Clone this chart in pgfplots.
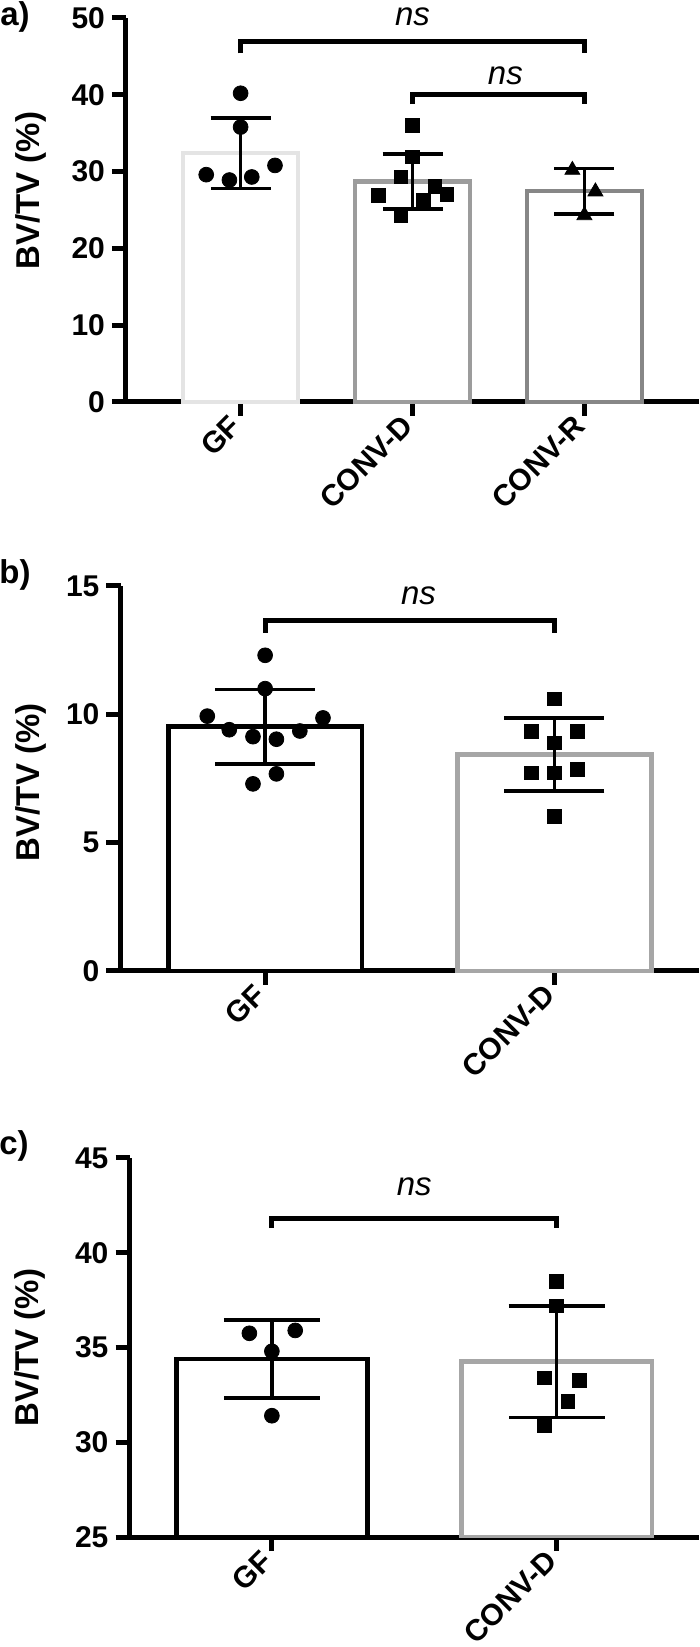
\documentclass[border=0pt]{standalone}
\usepackage{fontspec}
\setmainfont{Liberation Sans}
\usepackage{pgfplots}
\pgfplotsset{compat=1.18}
\definecolor{gA}{HTML}{E4E4E4}
\definecolor{gB}{HTML}{9C9C9C}
\definecolor{gC}{HTML}{878787}
\definecolor{gD}{HTML}{A6A6A6}
\tikzset{nsn/.style={font=\fontsize{16.5}{19}\selectfont\itshape}}
\pgfplotsset{
  panel/.style={
    scale only axis,
    axis x line*=bottom, axis y line*=left,
    axis line style={line width=2.5pt, black},
    every tick/.style={black, line width=2.5pt},
    tick align=outside,
    major tick length=7pt,
    xtick={0,1,2},
    tick label style={font=\fontsize{15}{18}\selectfont\bfseries},
    /pgf/number format/assume math mode=true,
    xticklabel style={rotate=45, anchor=east},
    ylabel={\textbf{BV/TV (\%)}},
    label style={font=\fontsize{16.5}{19}\selectfont\bfseries},
    clip=false,
  },
  barp/.style={ybar, bar shift=0pt, bar width=0.67, fill=white, line width=2.3pt, line join=miter},
  errp/.style={draw=none, mark=none, forget plot,
    error bars/.cd, y dir=both, y explicit,
    error bar style={line width=1.8pt, black},
    error mark options={rotate=90, mark size=#1, line width=1.8pt, black}},
  pts/.style={only marks, black, mark=#1, mark size=3.7pt},
  brk/.style={black, line width=2.5pt, mark=none, line join=miter},
}
\begin{document}
\begin{tikzpicture}
\useasboundingbox (0,0) rectangle (350pt,823.5pt);
\node[anchor=center, inner sep=0pt, font=\fontsize{16.5}{19}\selectfont\bfseries] at (7.5pt,815pt) {a)};
\node[anchor=center, inner sep=0pt, font=\fontsize{16.5}{19}\selectfont\bfseries] at (7.5pt,536pt) {b)};
\node[anchor=center, inner sep=0pt, font=\fontsize{16.5}{19}\selectfont\bfseries] at (7pt,250.5pt) {c)};

% ---------------- panel a
\begin{axis}[panel, at={(63pt,622.5pt)}, anchor=south west,
  width=286.5pt, height=192pt,
  xmin=-0.6667, xmax=2.6667, ymin=0, ymax=50, ytick={0,10,20,30,40,50},
  xticklabels={GF,CONV-D,CONV-R},
  ylabel style={at={(axis description cs:-0.166,0.55)}, anchor=center}]
\addplot[barp, draw=gA] coordinates {(0,32.4)};
\addplot[barp, draw=gB] coordinates {(1,28.7)};
\addplot[barp, draw=gC] coordinates {(2,27.45)};
\addplot[errp=15pt] coordinates {(0,32.4) +- (0,4.6)};
\addplot[errp=15pt] coordinates {(1,28.7) +- (0,3.6)};
\addplot[errp=15pt] coordinates {(2,27.45) +- (0,2.95)};
\addplot[pts=*] coordinates {(0,40.2) (0,35.8) (-0.2,29.6) (-0.065,28.9) (0.065,29.3) (0.2,30.8)};
\addplot[pts=square*, mark size=3.4pt] coordinates {(1,36.0) (1,31.9) (0.932,29.3) (0.8,26.9) (0.932,24.3) (1.064,26.3) (1.13,28.1) (1.2,27.0)};
\addplot[pts=triangle*, mark size=4.3pt] coordinates {(1.93,30.2) (2.064,27.4) (2,24.3)};
\addplot[brk] coordinates {(0,45.4) (0,46.9) (2,46.9) (2,45.4)};
\addplot[brk] coordinates {(1,38.8) (1,40.0) (2,40.0) (2,38.8)};
\node[nsn] at (axis cs:1,50.2) {ns};
\node[nsn] at (axis cs:1.54,42.5) {ns};
\end{axis}

% ---------------- panel b
\begin{axis}[panel, at={(60.25pt,338pt)}, anchor=south west,
  width=289.25pt, height=192.5pt,
  xmin=-0.5, xmax=1.5, ymin=0, ymax=15, ytick={0,5,10,15}, xtick={0,1},
  xticklabels={GF,CONV-D},
  ylabel style={at={(axis description cs:-0.155,0.49)}, anchor=center}]
\addplot[barp, draw=black] coordinates {(0,9.52)};
\addplot[barp, draw=gD] coordinates {(1,8.44)};
\addplot[errp=25pt] coordinates {(0,9.52) +- (0,1.45)};
\addplot[errp=25pt] coordinates {(1,8.44) +- (0,1.42)};
\addplot[pts=*] coordinates {(0,12.3) (0,11.0) (-0.2,9.93) (0.2,9.86) (-0.124,9.40) (-0.042,9.13) (0.039,9.03) (0.12,9.35) (0.039,7.68) (-0.042,7.29)};
\addplot[pts=square*, mark size=3.4pt] coordinates {(1,10.6) (0.92,9.33) (1.08,9.33) (1,8.89) (0.92,7.71) (1.08,7.85) (1,7.71) (1,6.03)};
\addplot[brk] coordinates {(0,13.17) (0,13.64) (1,13.64) (1,13.17)};
\node[nsn] at (axis cs:0.53,14.6) {ns};
\end{axis}

% ---------------- panel c
\begin{axis}[panel, at={(64.75pt,55pt)}, anchor=south west,
  width=284.75pt, height=189.5pt, clip=true,
  xmin=-0.5, xmax=1.5, ymin=25, ymax=45, ytick={25,30,35,40,45}, xtick={0,1},
  xticklabels={GF,CONV-D},
  ylabel style={at={(axis description cs:-0.174,0.5)}, anchor=center}]
\addplot[barp, draw=black] coordinates {(0,34.4)};
\addplot[barp, draw=gD] coordinates {(1,34.25)};
\addplot[errp=24pt] coordinates {(0,34.4) +- (0,2.05)};
\addplot[errp=24pt] coordinates {(1,34.25) +- (0,2.95)};
\addplot[pts=*] coordinates {(-0.079,35.75) (0.082,35.9) (0,34.8) (0,31.4)};
\addplot[pts=square*, mark size=3.4pt] coordinates {(1,38.5) (1,37.2) (0.957,33.4) (1.079,33.25) (1.039,32.15) (0.957,30.9)};
\addplot[brk] coordinates {(0,41.3) (0,41.8) (1,41.8) (1,41.3)};
\node[nsn] at (axis cs:0.5,43.5) {ns};
\end{axis}
\end{tikzpicture}
\end{document}
